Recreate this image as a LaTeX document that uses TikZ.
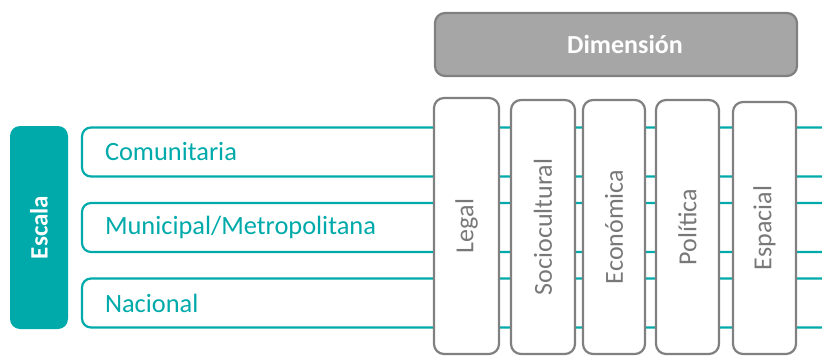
\documentclass[tikz,border=0pt]{standalone}
\usepackage{fontspec}
\setmainfont{Carlito}
\definecolor{tealc}{RGB}{0,170,170}
\definecolor{grayline}{RGB}{128,128,128}
\definecolor{grayfill}{RGB}{166,166,166}
\definecolor{graytext}{RGB}{120,120,120}
\begin{document}
\begin{tikzpicture}[x=1pt,y=-1pt,
  rowbox/.style={draw=tealc, line width=2.2pt, fill=white, rounded corners=9pt,
    outer sep=0pt, inner xsep=23pt, minimum height=49pt, text width=714pt,
    align=left, font=\fontsize{26.4}{30}\selectfont, text=tealc, anchor=north west},
  colbox/.style={draw=grayline, line width=2.2pt, fill=white, rounded corners=10pt,
    outer sep=0pt, rotate=90, font=\fontsize{26}{30}\selectfont, text=graytext},
  headbox/.style={draw=grayline, line width=2.2pt, fill=grayfill, rounded corners=10pt,
    outer sep=0pt, font=\bfseries\fontsize{26}{30}\selectfont, text=white},
  scalebox/.style={fill=tealc, rounded corners=10pt, outer sep=0pt, rotate=90,
    font=\bfseries\fontsize{25}{30}\selectfont, text=white}
]
\useasboundingbox (0,0) rectangle (822,356);
\clip (0,0) rectangle (822,356);

% Escala
\node[scalebox, minimum width=203pt, minimum height=58pt] (escala) at (39,227.5) {Escala};

% Dimension
\node[headbox, minimum width=362pt, minimum height=63pt] (dim) at (616,44.5) {\hspace*{18pt}Dimensión};

% Rows
\node[rowbox] (r1) at (82,127.5) {Comunitaria};
\node[rowbox] (r2) at (82,203) {Municipal/Metropolitana};
\node[rowbox] (r3) at (82,278.5) {Nacional};

% Columns
\node[colbox, minimum width=256pt, minimum height=65pt] (legal) at (466.5,226) {Legal};
\node[colbox, minimum width=254pt, minimum height=64pt] (socio) at (543,227) {Sociocultural};
\node[colbox, minimum width=254pt, minimum height=62pt] (eco) at (614,227) {Económica};
\node[colbox, minimum width=254pt, minimum height=63pt] (pol) at (687.5,227) {Política};
\node[colbox, minimum width=252pt, minimum height=63pt] (esp) at (764.5,228) {Espacial};
\end{tikzpicture}
\end{document}
